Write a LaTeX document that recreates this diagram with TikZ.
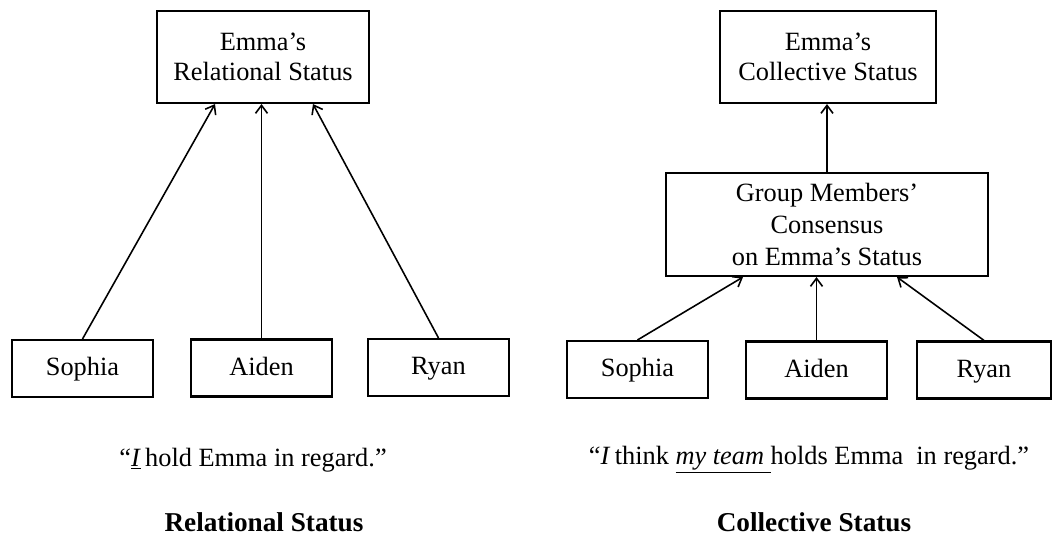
\documentclass[tikz,border=0pt]{standalone}
\usepackage{fontspec}
\setmainfont{Liberation Serif}
\usetikzlibrary{arrows.meta}

\begin{document}
\begin{tikzpicture}[x=0.02cm, y=-0.02cm,
  statbox/.style={draw, line width=1.2pt, align=center, inner sep=2pt,
                  font=\fontsize{15}{17}\selectfont},
  member/.style={statbox, minimum width=2.82cm, minimum height=1.14cm,
                 text height=2.4ex, text depth=0.6ex},
  voice/.style={->, line width=0.9pt, >={Straight Barb[length=1.6mm,width=2.4mm]}},
  caption/.style={font=\fontsize{15}{17}\selectfont, inner sep=1pt}]

\useasboundingbox (0,0) rectangle (1054,538);

% ---- (1) relational status (left) -------------------------------
\node[statbox, minimum width=4.24cm, minimum height=1.84cm]
      (emmaR) at (263,57) {Emma's\\Relational Status};
\node[member] (sophiaR) at (82.5,368.5) {Sophia};
\node[member] (aidenR)  at (261.5,368)  {Aiden};
\node[member] (ryanR)   at (438.5,367.5) {Ryan};

\draw[voice] (sophiaR.north) -- ([xshift=-0.96cm]emmaR.south);
\draw[voice] (aidenR.north)  -- (aidenR.north |- emmaR.south);
\draw[voice] (ryanR.north)   -- ([xshift=1.0cm]emmaR.south);

% ---- (2) collective status (right) ------------------------------
\node[statbox, minimum width=4.32cm, minimum height=1.84cm]
      (emmaC) at (828,57) {Emma's\\Collective Status};
\node[statbox, minimum width=6.44cm, minimum height=2.06cm,
      font=\fontsize{15}{18}\selectfont]
      (consensus) at (827,224.5)
      {Group Members'\\Consensus\\on Emma's Status};
\node[member] (sophiaC) at (637.5,369.5) {Sophia};
\node[member] (aidenC)  at (816.5,370)   {Aiden};
\node[member, minimum width=2.68cm] (ryanC) at (984,370) {Ryan};

\draw[voice] (consensus.north) -- (consensus.north |- emmaC.south);
\draw[voice] (sophiaC.north) -- ([xshift=-1.68cm]consensus.south);
\draw[voice] (aidenC.north)  -- (aidenC.north |- consensus.south);
\draw[voice] (ryanC.north)   -- ([xshift=1.4cm]consensus.south);

% ---- (3) quotes and titles --------------------------------------
\node[caption] (quoteR) at (253,460)
      {``\underline{\textit{I}}\,hold Emma in regard.''};
\node[caption] (quoteC) at (809,460)
      {``\textit{I}\,think \underline{\textit{my team }}holds Emma\ \ in regard.''};
\node[caption, font=\fontsize{15.5}{17}\selectfont\bfseries]
      (titleR) at (264,522) {Relational Status};
\node[caption, font=\fontsize{15.5}{17}\selectfont\bfseries]
      (titleC) at (814,522) {Collective Status};

\end{tikzpicture}
\end{document}
